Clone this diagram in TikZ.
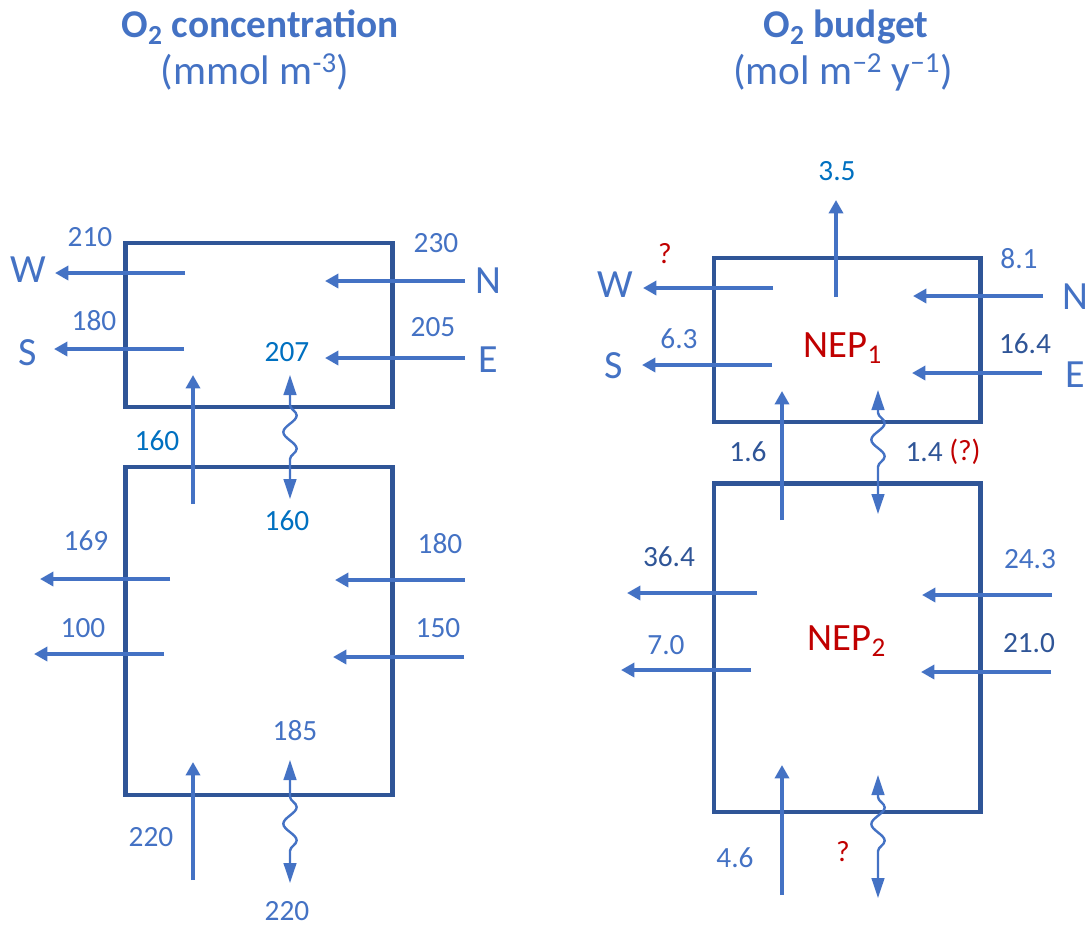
\documentclass[tikz,border=0pt]{standalone}
\usepackage{fontspec}
\setmainfont{Carlito}
\usetikzlibrary{arrows.meta,decorations.pathmorphing}
\definecolor{ablue}{HTML}{4472C4}
\definecolor{bblue}{HTML}{2F5597}
\definecolor{cblue}{HTML}{0070C0}
\definecolor{dred}{HTML}{C00000}
\tikzset{
  box/.style={draw=bblue, line width=3.4pt, inner sep=0pt},
  flow/.style={draw=ablue, line width=3.4pt, -{Triangle[length=10pt,width=10.5pt]}},
  wavy/.style 2 args={draw=ablue, line width=1.8pt,
    {Triangle[length=15pt,width=9.5pt]}-{Triangle[length=15pt,width=9.5pt]},
    decorate, decoration={snake, amplitude=5pt, segment length=25pt, pre length=#1, post length=#2}},
  lab/.style={text=ablue, font=\fontsize{22}{26}\selectfont, inner sep=0pt},
  labc/.style={lab, text=cblue},
  labd/.style={lab, text=bblue},
  labr/.style={lab, text=dred},
  compass/.style={text=ablue, font=\fontsize{30}{36}\selectfont, inner sep=0pt},
  nep/.style={text=dred, font=\fontsize{29}{34}\selectfont, inner sep=0pt},
  ttl/.style={text=ablue, font=\fontsize{29.5}{34}\selectfont\bfseries, inner sep=0pt},
  ttlu/.style={text=ablue, font=\fontsize{31}{36}\selectfont, inner sep=0pt},
}
\begin{document}
\begin{tikzpicture}[x=0.75pt,y=-0.75pt]
\path[use as bounding box] (0,0) rectangle (1090,926);
% titles
\node[ttl] (t1) at (260,27) {O\textsubscript{2} concentration};
\node[ttlu] (t1u) at (255,72) {(mmol m\textsuperscript{-3})};
\node[ttl] (t2) at (846,27) {O\textsubscript{2} budget};
\node[ttlu] (t2u) at (843,72) {(mol m\textsuperscript{−2} y\textsuperscript{−1})};
% boxes
\node[box, minimum width=200.25pt, minimum height=123pt] (LT) at (259,325) {};
\node[box, minimum width=200.25pt, minimum height=246pt] (LB) at (259,631) {};
\node[box, minimum width=199.9pt, minimum height=123pt] (RT) at (847.25,340) {};
\node[box, minimum width=199.9pt, minimum height=246.4pt] (RB) at (847.25,647.75) {};
% ---------- left top ----------
\coordinate (lw0) at (185,273); \coordinate (lw1) at (55,273);
\coordinate (ls0) at (184,349); \coordinate (ls1) at (54,349);
\coordinate (ln0) at (465,281); \coordinate (ln1) at (325,281);
\coordinate (le0) at (465,358); \coordinate (le1) at (325,358);
\coordinate (lu0) at (193,504); \coordinate (lu1) at (193,375);
\coordinate (lv0) at (290,375); \coordinate (lv1) at (290,499);
\draw[flow] (lw0) -- (lw1);
\draw[flow] (ls0) -- (ls1);
\draw[flow] (ln0) -- (ln1);
\draw[flow] (le0) -- (le1);
\draw[flow] (lu0) -- (lu1);
\draw[wavy={22.5pt}{25.5pt}] (lv0) -- (lv1);
\node[lab] (l210) at (90,237) {210};
\node[compass] (lW) at (28,270) {W};
\node[lab] (l180) at (94,321) {180};
\node[compass] (lS) at (28,353) {S};
\node[lab] (l230) at (436,243) {230};
\node[compass] (lN) at (488,281) {N};
\node[lab] (l205) at (433,327) {205};
\node[compass] (lE) at (488,360) {E};
\node[labc] (l207) at (287,352) {207};
\node[labc] (l160a) at (157,441) {160};
\node[labc] (l160b) at (287,521) {160};
% ---------- left bottom ----------
\coordinate (lbw0) at (170,579); \coordinate (lbw1) at (40,579);
\coordinate (lbs0) at (164,654); \coordinate (lbs1) at (34,654);
\coordinate (lbn0) at (465,580); \coordinate (lbn1) at (335,580);
\coordinate (lbe0) at (464,657); \coordinate (lbe1) at (333,657);
\coordinate (lbu0) at (193,880); \coordinate (lbu1) at (193,762);
\coordinate (lbv0) at (290,760); \coordinate (lbv1) at (290,883);
\draw[flow] (lbw0) -- (lbw1);
\draw[flow] (lbs0) -- (lbs1);
\draw[flow] (lbn0) -- (lbn1);
\draw[flow] (lbe0) -- (lbe1);
\draw[flow] (lbu0) -- (lbu1);
\draw[wavy={27.5pt}{23pt}] (lbv0) -- (lbv1);
\node[lab] (l169) at (86,541) {169};
\node[lab] (l100) at (83,628) {100};
\node[lab] (l180b) at (440,544) {180};
\node[lab] (l150) at (438,628) {150};
\node[lab] (l220a) at (151,837) {220};
\node[lab] (l185) at (295,731) {185};
\node[lab] (l220b) at (287,911) {220};
% ---------- right top ----------
\coordinate (ru0) at (836,297); \coordinate (ru1) at (836,200);
\coordinate (rw0) at (773,288); \coordinate (rw1) at (643,288);
\coordinate (rs0) at (772,365); \coordinate (rs1) at (642,365);
\coordinate (rn0) at (1043,296); \coordinate (rn1) at (913,296);
\coordinate (re0) at (1042,373); \coordinate (re1) at (912,373);
\coordinate (rup0) at (782,520); \coordinate (rup1) at (782,391);
\coordinate (rv0) at (878,390); \coordinate (rv1) at (878,514);
\draw[flow] (ru0) -- (ru1);
\draw[flow] (rw0) -- (rw1);
\draw[flow] (rs0) -- (rs1);
\draw[flow] (rn0) -- (rn1);
\draw[flow] (re0) -- (re1);
\draw[flow] (rup0) -- (rup1);
\draw[wavy={17pt}{25.5pt}] (rv0) -- (rv1);
\node[labc] (r35) at (837,171) {3.5};
\node[compass] (rW) at (615,285) {W};
\node[labr] (rq1) at (665,254) {?};
\node[compass] (rS) at (614,366) {S};
\node[lab] (r63) at (679,339) {6.3};
\node[compass] (rN) at (1075,297) {N};
\node[lab] (r81) at (1019,259) {8.1};
\node[compass] (rE) at (1075,375) {E};
\node[labd] (r164) at (1025,344) {16.4};
\node[nep] (nep1) at (843,348) {NEP\textsubscript{1}};
\node[labd] (r16) at (748,452) {1.6};
\node[labd, anchor=east] (r14) at (943,452) {1.4};
\node[labr, anchor=west] (r14q) at (949,452) {(?)};
% ---------- right bottom ----------
\coordinate (rbw0) at (757,593); \coordinate (rbw1) at (627,593);
\coordinate (rbs0) at (751,670); \coordinate (rbs1) at (621,670);
\coordinate (rbn0) at (1052,595); \coordinate (rbn1) at (922,595);
\coordinate (rbe0) at (1051,672); \coordinate (rbe1) at (921,672);
\coordinate (rbu0) at (782,895); \coordinate (rbu1) at (782,765);
\coordinate (rbv0) at (878,775); \coordinate (rbv1) at (878,898);
\draw[flow] (rbw0) -- (rbw1);
\draw[flow] (rbs0) -- (rbs1);
\draw[flow] (rbn0) -- (rbn1);
\draw[flow] (rbe0) -- (rbe1);
\draw[flow] (rbu0) -- (rbu1);
\draw[wavy={16.5pt}{23pt}] (rbv0) -- (rbv1);
\node[labd] (r364) at (669,557) {36.4};
\node[lab] (r70) at (666,645) {7.0};
\node[lab] (r243) at (1030,559) {24.3};
\node[labd] (r210) at (1029,643) {21.0};
\node[nep] (nep2) at (847,641) {NEP\textsubscript{2}};
\node[lab] (r46) at (735,858) {4.6};
\node[labr] (rq2) at (843,852) {?};
\end{tikzpicture}
\end{document}
